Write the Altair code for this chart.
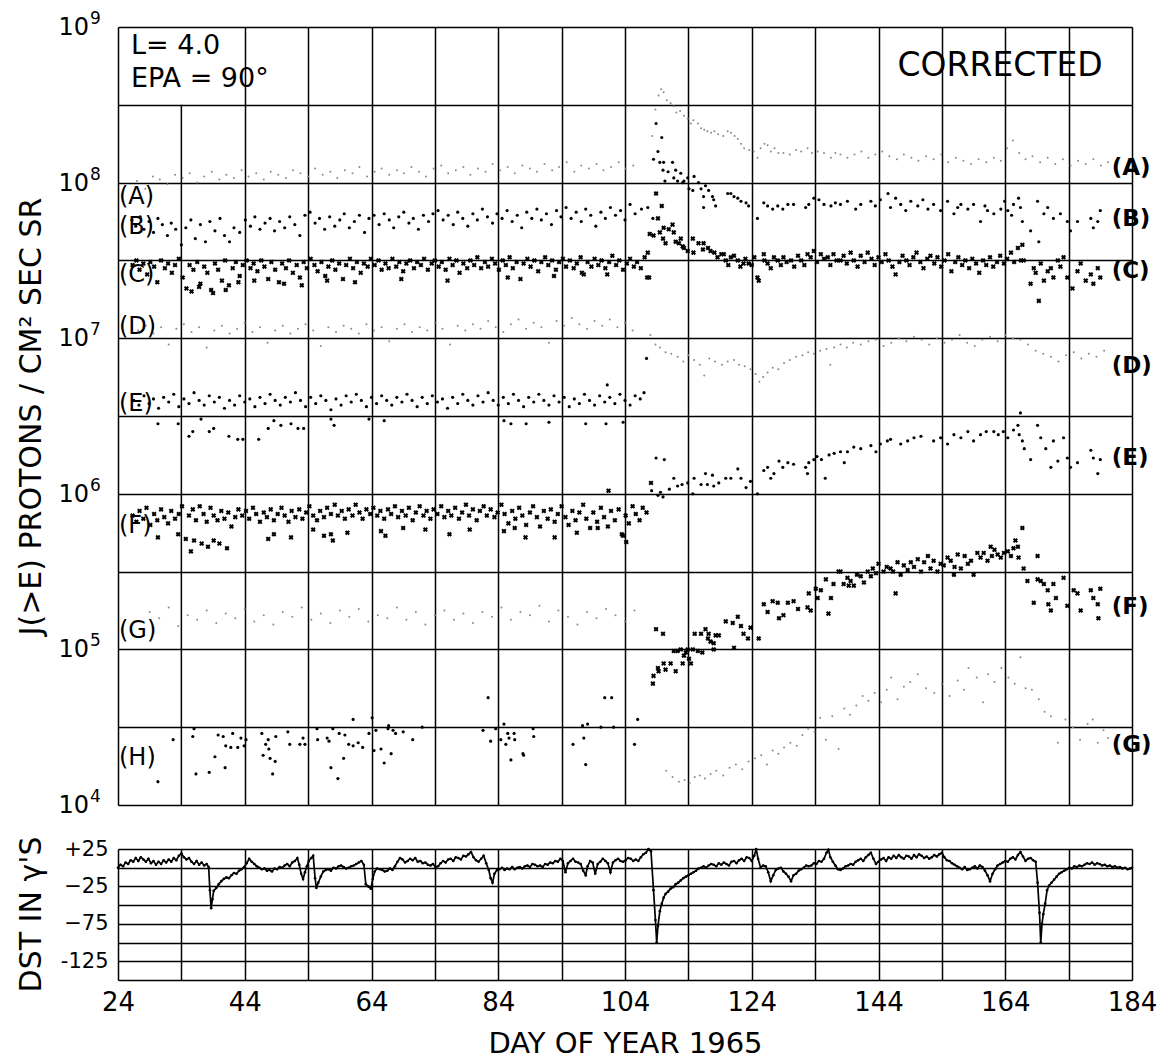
import altair as alt
import pandas as pd

# ------------------------------------------------------------------
# Values: (day of year 1965, log10 J(>E))
# ------------------------------------------------------------------
A_PTS = [
    (27.0,8.01),(28.3,7.96),(29.5,8.04),(30.6,8.02),(31.8,7.99),(33.0,8.05),(34.2,8.03),(35.3,8.06),(36.5,8.00),(37.6,8.04),
    (38.8,8.07),(40.0,8.02),(41.1,8.05),(42.3,8.03),(43.5,8.08),(44.6,8.04),(45.8,8.06),(47.0,8.02),(48.1,8.07),(49.3,8.05),
    (50.5,8.03),(51.6,8.08),(52.8,8.06),(54.0,8.04),(55.1,8.09),(56.3,8.05),(57.5,8.07),(58.6,8.03),(59.8,8.08),(61.0,8.06),
    (62.1,8.10),(63.3,8.04),(64.5,8.07),(65.6,8.09),(66.8,8.05),(68.0,8.08),(69.1,8.06),(70.3,8.10),(71.5,8.07),(72.6,8.04),
    (73.8,8.09),(75.0,8.11),(76.1,8.06),(77.3,8.08),(78.5,8.10),(79.6,8.05),(80.8,8.09),(82.0,8.07),(83.1,8.12),(84.3,8.08),
    (85.5,8.10),(86.6,8.06),(87.8,8.11),(89.0,8.09),(90.1,8.07),(91.3,8.12),(92.5,8.08),(93.6,8.10),(94.8,8.13),(96.0,8.07),
    (97.1,8.11),(98.3,8.09),(99.5,8.12),(100.6,8.08),(101.8,8.10),(103.0,8.13),(104.1,8.09),(105.3,8.11),
    (108.3,8.30),(108.8,8.47),(109.3,8.56),(109.7,8.60),(110.1,8.58),(110.6,8.53),(111.2,8.51),(111.7,8.49),(112.1,8.45),
    (112.7,8.46),(113.3,8.43),(113.9,8.41),(114.4,8.38),(114.8,8.40),(115.5,8.38),(116.0,8.35),(116.5,8.34),(117.0,8.33),
    (117.6,8.32),(118.1,8.33),(118.7,8.31),(119.5,8.30),(120.2,8.33),(120.7,8.32),(121.3,8.30),(121.8,8.28),(122.3,8.25),
    (122.8,8.22),(123.6,8.21),(124.3,8.20),(124.9,8.16),(125.4,8.22),(126.0,8.25),(126.5,8.24),(127.0,8.20),(127.6,8.22),
    (128.2,8.19),(129.0,8.19),(130.0,8.18),(131.0,8.21),(131.8,8.20),(132.8,8.22),(133.5,8.19),(134.4,8.20),(135.4,8.19),
    (136.5,8.16),(137.2,8.19),(138.0,8.18),(139.1,8.16),(140.2,8.18),(141.3,8.20),(142.4,8.16),(143.5,8.18),(144.6,8.20),
    (145.7,8.17),(146.9,8.15),(148.0,8.18),(149.2,8.16),(150.3,8.14),(151.5,8.17),(152.7,8.15),(153.9,8.18),(155.0,8.13),
    (156.2,8.16),(157.4,8.14),(158.6,8.12),(159.8,8.15),(161.0,8.13),(162.2,8.16),(163.3,8.14),(164.3,8.22),(165.2,8.27),
    (166.2,8.19),(167.2,8.15),(168.3,8.17),(169.5,8.13),(170.7,8.16),(171.9,8.12),(173.1,8.15),(174.3,8.11),(175.5,8.14),
    (176.7,8.12),(177.9,8.15),(179.1,8.11),(180.2,8.13),
]

B_PTS = [
    (26.2,7.76),(26.8,7.72),(27.5,7.78),(28.1,7.70),(28.9,7.75),(29.6,7.68),(30.3,7.77),(31.0,7.73),(31.8,7.66),(32.4,7.74),(33.1,7.70),
    (34.0,7.60),(34.7,7.71),(35.5,7.76),(36.2,7.64),(37.0,7.73),(37.8,7.62),(38.5,7.75),(39.3,7.69),(40.1,7.77),(40.8,7.66),(41.6,7.62),
    (42.3,7.71),(43.2,7.68),(44.1,7.76),(44.9,7.72),(45.6,7.78),(46.4,7.70),(47.2,7.74),(48.0,7.77),(48.7,7.69),(49.5,7.75),(50.3,7.71),
    (51.1,7.78),(51.9,7.73),(52.7,7.66),(53.5,7.79),(54.3,7.81),(55.1,7.74),(55.8,7.77),(56.6,7.70),(57.4,7.78),(58.2,7.72),(59.0,7.76),
    (59.7,7.80),(60.5,7.71),(61.3,7.75),(62.1,7.79),(62.9,7.68),(63.6,7.77),(64.4,7.79),(65.2,7.73),(66.0,7.80),(66.8,7.76),(67.5,7.71),
    (68.3,7.78),(69.1,7.81),(69.9,7.74),(70.6,7.77),(71.4,7.70),(72.2,7.79),(73.0,7.75),(73.7,7.80),(74.5,7.82),(75.3,7.76),(76.1,7.79),
    (76.9,7.73),(77.6,7.81),(78.4,7.77),(79.2,7.72),(80.0,7.80),(80.7,7.76),(81.5,7.83),(82.3,7.78),(83.1,7.74),(83.8,7.80),(84.6,7.77),
    (85.4,7.82),(86.2,7.75),(87.0,7.79),(87.7,7.71),(88.5,7.81),(89.3,7.77),(90.1,7.83),(90.8,7.76),(91.6,7.80),(92.4,7.73),(93.2,7.82),
    (93.9,7.78),(94.7,7.84),(95.5,7.77),(96.3,7.81),(97.1,7.75),(97.8,7.83),(98.6,7.79),(99.4,7.72),(100.2,7.81),(100.9,7.77),(101.7,7.84),
    (102.5,7.79),(103.3,7.82),(104.0,7.76),(104.8,7.86),(105.6,7.80),(106.6,7.83),(107.6,7.84),(108.4,7.77),
    (108.9,8.38),(109.8,8.29),(109.2,8.20),(108.5,8.15),(109.5,8.13),(110.1,8.13),(111.5,8.13),(110.0,8.08),(110.8,8.07),(112.0,8.08),
    (110.3,8.01),(111.7,8.03),(112.3,8.01),(112.8,8.06),(113.1,8.00),(113.3,8.01),(113.9,8.03),(114.9,8.04),(114.1,7.96),(114.7,7.95),
    (115.6,8.00),(116.0,7.96),(116.7,7.98),(116.4,7.91),(116.4,7.84),(117.2,7.95),(117.8,7.91),(118.3,7.85),(118.0,7.89),(120.2,7.93),
    (120.7,7.93),(121.2,7.91),(121.8,7.90),(122.3,7.88),(123.1,7.87),(123.5,7.85),(124.9,7.77),(125.9,7.87),(126.5,7.85),(127.3,7.83),
    (128.1,7.85),(128.9,7.83),(129.7,7.86),(130.6,7.86),(132.5,7.84),(133.0,7.86),(133.8,7.90),(134.6,7.89),(135.4,7.86),(136.5,7.85),
    (137.2,7.87),(138.0,7.86),(139.1,7.88),(140.4,7.83),(141.2,7.86),(142.8,7.88),(143.5,7.85),(144.3,7.89),(145.5,7.93),(145.9,7.84),
    (146.7,7.90),(147.5,7.86),(148.3,7.82),(149.1,7.88),(150.2,7.85),(151.0,7.89),(151.8,7.83),(152.7,7.86),(153.8,7.82),(154.9,7.88),
    (155.9,7.80),(156.5,7.84),(157.0,7.86),(158.1,7.83),(159.0,7.86),(160.1,7.75),(160.8,7.85),(161.2,7.82),(162.2,7.80),(163.3,7.83),
    (163.9,7.88),(164.4,7.82),(165.0,7.79),(165.3,7.86),(166.1,7.90),(166.4,7.84),(166.7,7.75),(168.0,7.69),(169.1,7.88),(169.3,7.62),
    (170.1,7.80),(170.7,7.84),(171.6,7.77),(172.7,7.80),(173.8,7.75),(174.3,7.69),(175.4,7.75),(177.5,7.77),(177.9,7.71),(178.6,7.75),
    (179.0,7.82),
]

C_PTS = [
    (26.3,7.47),(26.9,7.50),(27.4,7.44),(28.0,7.48),(28.6,7.41),(29.1,7.49),(29.7,7.46),(30.2,7.36),(30.8,7.50),(31.4,7.45),(31.9,7.48),
    (32.5,7.42),(33.0,7.47),(33.6,7.51),(34.2,7.39),(34.8,7.32),(35.3,7.47),(35.9,7.44),(36.5,7.49),(37.0,7.35),(37.6,7.46),(38.1,7.42),
    (38.7,7.31),(39.3,7.48),(39.8,7.44),(40.4,7.37),(40.9,7.50),(41.5,7.34),(42.1,7.45),(42.6,7.49),(43.2,7.40),(43.7,7.47),(44.3,7.50),
    (44.9,7.45),(45.4,7.48),(46.0,7.43),(46.6,7.50),(47.1,7.46),(47.7,7.38),(48.2,7.49),(48.8,7.44),(49.4,7.36),(49.9,7.48),(50.5,7.45),
    (51.0,7.50),(51.6,7.42),(52.2,7.47),(52.7,7.39),(53.3,7.49),(53.8,7.45),(54.4,7.51),(55.0,7.47),(55.5,7.43),(56.1,7.49),(56.7,7.40),
    (57.2,7.46),(57.8,7.50),(58.3,7.44),(58.9,7.48),(59.5,7.38),(60.0,7.47),(60.6,7.51),(61.1,7.45),(61.7,7.49),(62.3,7.42),(62.8,7.48),
    (63.4,7.46),(63.9,7.51),(64.5,7.47),(65.1,7.50),(65.6,7.44),(66.2,7.48),(66.7,7.45),(67.3,7.51),(67.9,7.46),(68.4,7.49),(69.0,7.43),
    (69.5,7.48),(70.1,7.50),(70.7,7.45),(71.2,7.49),(71.8,7.47),(72.3,7.51),(72.9,7.44),(73.5,7.48),(74.0,7.50),(74.6,7.46),(75.1,7.49),
    (75.7,7.44),(76.3,7.51),(76.8,7.47),(77.4,7.50),(77.9,7.42),(78.5,7.48),(79.1,7.45),(79.6,7.50),(80.2,7.47),(80.7,7.52),(81.3,7.45),
    (81.9,7.49),(82.4,7.46),(83.0,7.51),(83.5,7.48),(84.1,7.44),(84.7,7.50),(85.2,7.47),(85.8,7.52),(86.3,7.45),(86.9,7.49),(87.5,7.38),
    (88.0,7.48),(88.6,7.51),(89.1,7.46),(89.7,7.50),(90.3,7.43),(90.8,7.49),(91.4,7.52),(91.9,7.47),(92.5,7.50),(93.1,7.44),(93.6,7.49),
    (94.2,7.51),(94.7,7.46),(95.3,7.50),(95.9,7.45),(96.4,7.48),(97.0,7.52),(97.5,7.41),(98.1,7.49),(98.7,7.46),(99.2,7.51),(99.8,7.47),
    (100.3,7.50),(100.9,7.45),(101.5,7.49),(102.0,7.53),(102.6,7.47),(103.1,7.50),(103.7,7.44),(104.3,7.48),(104.8,7.51),(105.4,7.46),
    (105.9,7.49),(106.5,7.45),(107.1,7.52),(107.5,7.39),
    (35.6,7.30),(36.8,7.33),(39.0,7.29),(41.0,7.31),(43.0,7.36),(45.5,7.37),(50.2,7.35),(53.0,7.34),(57.0,7.37),(61.4,7.36),
    (68.7,7.38),(76.0,7.37),(85.5,7.39),(92.8,7.40),(97.2,7.42),(101.2,7.41),
    (107.6,7.55),(107.8,7.39),(108.9,7.93),(109.8,7.85),(109.2,7.77),(107.9,7.67),(108.5,7.66),(109.5,7.68),(110.1,7.71),(110.9,7.70),
    (111.5,7.73),(110.0,7.64),(110.4,7.61),(111.7,7.68),(112.0,7.62),(112.8,7.64),(112.5,7.61),(113.1,7.59),(113.3,7.58),(113.9,7.56),
    (114.7,7.64),(114.8,7.55),(115.6,7.61),(116.3,7.57),(116.4,7.61),(117.1,7.58),(117.5,7.56),(118.1,7.55),(118.6,7.52),(119.2,7.54),
    (119.6,7.54),(119.9,7.50),(120.3,7.47),(120.7,7.52),(121.2,7.53),(121.8,7.50),(122.2,7.46),(122.7,7.48),(123.0,7.51),(123.5,7.48),
    (124.0,7.47),(124.4,7.52),(124.9,7.39),(125.1,7.37),(125.9,7.54),(126.0,7.50),(126.5,7.48),(127.0,7.45),(127.5,7.52),(128.1,7.50),
    (128.6,7.47),(129.0,7.52),(129.5,7.49),(130.2,7.50),(130.7,7.46),(131.3,7.53),(131.8,7.50),(132.3,7.47),(132.8,7.54),(133.3,7.52),
    (133.8,7.56),(134.3,7.49),(134.9,7.54),(135.4,7.51),(136.0,7.52),(136.4,7.47),(136.9,7.54),(137.4,7.50),(138.0,7.50),(138.5,7.53),
    (139.0,7.48),(139.6,7.55),(140.1,7.50),(140.7,7.46),(141.2,7.53),(141.8,7.49),(142.3,7.55),(142.9,7.51),(143.4,7.47),(144.0,7.52),
    (144.5,7.49),(145.1,7.54),(145.6,7.50),(146.2,7.46),(146.7,7.41),(147.3,7.49),(147.8,7.53),(148.4,7.50),(148.9,7.47),(149.5,7.52),
    (150.0,7.55),(150.6,7.49),(151.1,7.45),(151.7,7.51),(152.2,7.53),(152.8,7.48),(153.3,7.52),(153.9,7.46),(154.4,7.50),(155.0,7.54),
    (155.5,7.43),(156.1,7.49),(156.6,7.52),(157.2,7.47),(157.7,7.50),(158.3,7.45),(158.8,7.51),(159.4,7.48),(159.9,7.42),(160.5,7.50),
    (161.0,7.47),(161.6,7.52),(162.1,7.46),(162.7,7.49),(163.2,7.53),(163.8,7.48),(164.3,7.51),(164.9,7.55),(165.4,7.49),(166.0,7.58),
    (166.5,7.50),(166.7,7.60),(166.9,7.50),(168.0,7.35),(168.5,7.45),(168.8,7.42),(169.3,7.24),(169.6,7.48),(170.1,7.37),(170.7,7.43),
    (171.2,7.45),(171.6,7.39),(172.3,7.50),(172.7,7.46),(173.2,7.52),(173.8,7.39),(174.6,7.32),(175.4,7.43),(175.9,7.48),(176.7,7.37),
    (177.5,7.41),(177.9,7.35),(178.6,7.45),(179.0,7.39),
]

D_PTS = [
    (27.2,7.05),(28.4,7.08),(29.6,7.03),(30.8,7.07),(32.0,6.96),(33.2,7.06),(34.4,7.09),(35.6,7.04),(36.8,7.07),(38.0,6.94),(39.2,7.05),
    (40.4,7.08),(41.6,7.03),(42.8,7.06),(44.0,7.10),(45.2,7.04),(46.4,7.07),(47.6,6.97),(48.8,7.05),(50.0,7.08),(51.2,7.03),(52.4,7.06),
    (53.6,7.09),(54.8,7.05),(56.0,6.95),(57.2,7.07),(58.4,7.04),(59.6,7.08),(60.8,7.06),(62.0,7.03),(63.2,7.09),(64.4,7.05),(65.6,7.07),
    (66.8,6.98),(68.0,7.06),(69.2,7.09),(70.4,7.04),(71.6,7.07),(72.8,7.05),(74.0,7.10),(75.2,7.06),(76.4,6.96),(77.6,7.08),(78.8,7.05),
    (80.0,7.09),(81.2,7.06),(82.4,7.11),(83.6,7.07),(84.8,7.04),(86.0,7.09),(87.2,7.12),(88.4,7.06),(89.6,7.10),(90.8,7.07),(92.0,6.97),
    (93.2,7.11),(94.4,7.08),(95.6,7.13),(96.8,7.09),(98.0,7.06),(99.2,7.11),(100.4,7.08),(101.6,7.12),(102.8,7.07),(104.0,7.10),(105.2,7.05),
    (108.0,7.02),(108.8,6.96),(109.5,6.94),(110.4,6.91),(111.3,6.90),(112.3,6.88),(113.2,6.85),(114.0,6.89),(114.9,6.86),(115.8,6.83),
    (116.5,6.76),(117.3,6.87),(118.2,6.85),(119.3,6.83),(120.2,6.85),(121.2,6.86),(122.0,6.83),(122.9,6.82),(123.8,6.80),(124.6,6.77),
    (125.2,6.72),(125.8,6.75),(126.5,6.78),(127.3,6.81),(128.2,6.80),(129.1,6.84),(130.0,6.86),(131.0,6.88),(132.0,6.89),(132.9,6.91),
    (133.8,6.90),(134.8,6.92),(135.8,6.93),(136.4,6.83),(137.0,6.94),(138.0,6.96),(139.0,6.94),(140.0,6.97),(141.2,6.96),(142.4,6.98),
    (143.6,6.99),(144.8,6.95),(146.0,6.97),(147.2,7.00),(148.4,6.98),(149.6,7.01),(150.8,6.99),(152.0,6.96),(153.2,7.00),(154.4,6.97),
    (155.6,6.99),(156.8,7.02),(158.0,6.97),(159.2,6.95),(160.4,6.99),(161.6,7.01),(162.8,6.98),(164.0,7.02),(165.2,7.00),(166.4,6.99),
    (167.6,6.96),(168.8,6.92),(170.0,6.90),(171.2,6.88),(172.4,6.85),(173.6,6.89),(174.8,6.91),(176.0,6.87),(177.2,6.90),(178.4,6.88),
    (179.6,6.92),
]

E_PTS = [
    (26.5,6.60),(27.3,6.57),(28.1,6.63),(28.9,6.58),(29.6,6.61),(30.4,6.55),(31.2,6.62),(32.0,6.59),(32.8,6.64),(33.6,6.56),(34.4,6.61),
    (35.2,6.58),(36.0,6.65),(36.8,6.60),(37.6,6.57),(38.4,6.63),(39.2,6.59),(40.0,6.62),(40.8,6.55),(41.6,6.60),(42.4,6.57),(43.2,6.63),
    (44.0,6.59),(44.8,6.61),(45.6,6.56),(46.4,6.62),(47.2,6.58),(48.0,6.64),(48.8,6.60),(49.6,6.57),(50.4,6.62),(51.2,6.59),(52.0,6.65),
    (52.8,6.60),(53.6,6.56),(54.4,6.62),(55.2,6.58),(56.0,6.63),(56.8,6.60),(57.6,6.54),(58.4,6.61),(59.2,6.57),(60.0,6.63),(60.8,6.59),
    (61.6,6.64),(62.4,6.60),(63.2,6.56),(64.0,6.62),(64.8,6.58),(65.6,6.63),(66.4,6.60),(67.2,6.57),(68.0,6.62),(68.8,6.59),(69.6,6.64),
    (70.4,6.60),(71.2,6.56),(72.0,6.62),(72.8,6.58),(73.6,6.63),(74.4,6.59),(75.2,6.61),(76.0,6.55),(76.8,6.62),(77.6,6.58),(78.4,6.64),
    (79.2,6.60),(80.0,6.57),(80.8,6.63),(81.6,6.59),(82.4,6.65),(83.2,6.60),(84.0,6.57),(84.8,6.62),(85.6,6.58),(86.4,6.64),(87.2,6.60),
    (88.0,6.56),(88.8,6.62),(89.6,6.59),(90.4,6.64),(91.2,6.60),(92.0,6.57),(92.8,6.63),(93.6,6.59),(94.4,6.62),(95.2,6.56),(96.0,6.61),
    (96.8,6.58),(97.6,6.64),(98.4,6.60),(99.2,6.57),(100.0,6.63),(100.8,6.59),(101.2,6.70),(101.6,6.62),(102.4,6.58),(103.2,6.64),
    (104.0,6.60),(104.8,6.57),(105.6,6.63),(106.4,6.61),(107.0,6.65),(107.4,6.87),
    (30.3,6.45),(33.5,6.45),(35.2,6.37),(35.8,6.40),(37.1,6.48),(38.4,6.40),(39.1,6.42),(41.5,6.37),(42.9,6.35),(43.7,6.35),(46.2,6.35),
    (47.7,6.42),(48.6,6.47),(49.7,6.44),(51.3,6.45),(52.4,6.42),(53.3,6.42),(57.6,6.48),(58.1,6.44),(63.6,6.48),(66.0,6.47),(84.9,6.47),
    (86.0,6.45),(88.4,6.45),(92.0,6.46),(97.8,6.45),(101.0,6.45),(103.7,6.46),
    (108.2,6.02),(108.9,6.23),(109.2,5.99),(109.6,6.01),(110.0,5.98),(110.2,6.22),(111.0,6.03),(111.7,6.10),(112.3,6.05),(113.0,6.06),
    (113.9,6.07),(114.7,6.00),(114.9,6.10),(116.0,6.06),(116.7,6.13),(117.0,6.06),(117.8,6.12),(118.0,6.05),(118.8,6.07),(119.9,6.10),
    (120.7,6.10),(121.8,6.16),(122.3,6.10),(123.1,6.04),(123.8,6.08),(124.9,6.00),(125.9,6.15),(126.5,6.17),(127.0,6.10),(127.5,6.13),
    (128.3,6.21),(128.9,6.17),(129.7,6.20),(130.6,6.19),(132.5,6.17),(132.8,6.13),(133.0,6.20),(133.8,6.22),(134.3,6.24),(135.0,6.22),
    (135.6,6.10),(136.2,6.25),(137.0,6.26),(138.0,6.27),(138.6,6.20),(139.1,6.27),(140.1,6.30),(141.2,6.29),(142.8,6.31),(143.6,6.27),
    (144.3,6.32),(145.4,6.34),(145.9,6.35),(147.5,6.32),(148.6,6.34),(149.6,6.36),(150.7,6.37),(152.7,6.34),(153.8,6.36),(154.9,6.32),
    (155.9,6.38),(157.0,6.36),(158.1,6.40),(159.0,6.34),(160.1,6.38),(161.0,6.40),(162.2,6.40),(162.9,6.38),(163.7,6.40),(164.4,6.36),
    (165.3,6.41),(166.0,6.44),(166.2,6.38),(166.4,6.52),(166.7,6.34),(167.0,6.29),(168.0,6.22),(169.1,6.44),(169.6,6.36),(170.4,6.29),
    (171.2,6.17),(171.6,6.34),(172.3,6.21),(173.2,6.36),(173.8,6.23),(174.3,6.17),(175.4,6.20),(177.5,6.28),(177.9,6.23),(178.6,6.13),
    (179.0,6.22),
]

F_PTS = [
    (26.3,5.86),(26.9,5.82),(27.4,5.89),(28.0,5.84),(28.5,5.91),(29.1,5.80),(29.7,5.87),(30.2,5.83),(30.8,5.90),(31.3,5.85),(31.9,5.81),
    (32.4,5.89),(33.0,5.84),(33.6,5.87),(34.1,5.92),(34.7,5.71),(35.2,5.86),(35.8,5.90),(36.3,5.83),(36.9,5.92),(37.5,5.87),(38.0,5.82),
    (38.6,5.91),(39.1,5.86),(39.7,5.83),(40.3,5.89),(40.8,5.84),(41.4,5.88),(41.9,5.79),(42.5,5.85),(43.0,5.90),(43.6,5.86),(44.2,5.89),
    (44.7,5.84),(45.3,5.91),(45.8,5.87),(46.4,5.82),(47.0,5.88),(47.5,5.85),(48.1,5.90),(48.6,5.83),(49.2,5.87),(49.8,5.91),(50.3,5.86),
    (50.9,5.82),(51.4,5.89),(52.0,5.85),(52.6,5.90),(53.1,5.84),(53.7,5.88),(54.2,5.92),(54.8,5.86),(55.4,5.83),(55.9,5.89),(56.5,5.85),
    (57.0,5.91),(57.6,5.87),(58.2,5.93),(58.7,5.86),(59.3,5.89),(59.8,5.84),(60.4,5.90),(61.0,5.86),(61.5,5.93),(62.1,5.88),(62.6,5.84),
    (63.2,5.90),(63.8,5.87),(64.3,5.91),(64.9,5.86),(65.4,5.89),(66.0,5.84),(66.6,5.90),(67.1,5.87),(67.7,5.92),(68.2,5.85),(68.8,5.89),
    (69.4,5.86),(69.9,5.91),(70.5,5.83),(71.0,5.88),(71.6,5.92),(72.2,5.86),(72.7,5.89),(73.3,5.84),(73.8,5.90),(74.4,5.87),(75.0,5.92),
    (75.5,5.85),(76.1,5.89),(76.6,5.86),(77.2,5.91),(77.8,5.84),(78.3,5.88),(78.9,5.93),(79.4,5.86),(80.0,5.90),(80.6,5.83),(81.1,5.89),
    (81.7,5.92),(82.2,5.86),(82.8,5.90),(83.4,5.85),(83.9,5.88),(84.5,5.93),(85.0,5.87),(85.6,5.81),(86.2,5.89),(86.7,5.84),(87.3,5.91),
    (87.8,5.86),(88.4,5.80),(89.0,5.88),(89.5,5.92),(90.1,5.85),(90.6,5.79),(91.2,5.89),(91.8,5.84),(92.3,5.90),(92.9,5.82),(93.4,5.87),
    (94.0,5.92),(94.6,5.85),(95.1,5.80),(95.7,5.89),(96.2,5.83),(96.8,5.88),(97.4,5.93),(97.9,5.84),(98.5,5.78),(99.0,5.88),(99.6,5.82),
    (100.2,5.91),(100.7,5.85),(101.3,5.79),(101.4,6.02),(101.8,5.89),(102.4,5.83),(103.0,5.90),(103.5,5.74),(104.1,5.86),(104.6,5.81),
    (105.2,5.92),(105.7,5.87),(106.3,5.83),(106.8,5.91),(107.4,5.88),(108.1,6.07),
    (30.3,5.72),(33.5,5.74),(35.5,5.63),(36.0,5.70),(37.2,5.68),(38.2,5.66),(39.1,5.70),(40.0,5.68),(41.2,5.65),(47.7,5.71),(48.6,5.74),
    (51.3,5.72),(54.8,5.77),(56.5,5.73),(57.6,5.74),(57.9,5.70),(60.2,5.75),(65.5,5.76),(66.2,5.73),(69.0,5.78),(72.5,5.77),(76.3,5.74),
    (79.5,5.77),(84.9,5.76),(86.6,5.78),(88.3,5.72),(92.9,5.72),(96.4,5.75),(99.7,5.78),(103.7,5.73),(104.2,5.69),
    (108.4,4.78),(108.5,4.83),(108.9,5.13),(109.2,4.88),(109.3,4.86),(110.0,5.10),(110.1,4.91),(110.4,4.87),(111.2,4.91),(111.7,4.99),
    (112.0,4.86),(112.3,4.99),(112.8,5.00),(113.1,4.91),(113.3,4.96),(113.6,4.98),(113.9,5.00),(114.1,4.94),(114.4,4.91),(114.7,5.00),
    (115.0,5.10),(115.5,4.99),(116.0,5.10),(116.2,4.98),(116.7,5.13),(117.1,5.07),(117.2,5.10),(117.5,5.05),(118.0,5.04),(118.0,5.00),
    (118.3,5.09),(118.8,5.09),(119.9,5.18),(121.0,5.17),(121.2,5.01),(121.8,5.21),(122.3,5.15),(122.7,5.10),(123.4,5.07),(123.8,5.14),
    (125.1,5.07),(125.9,5.29),(126.5,5.24),(127.3,5.31),(128.1,5.30),(128.3,5.20),(129.0,5.22),(129.7,5.30),(130.6,5.31),(131.3,5.26),
    (132.8,5.27),(133.0,5.36),(133.3,5.25),(134.1,5.39),(134.4,5.33),(134.9,5.38),(135.7,5.45),(136.1,5.23),(136.5,5.33),(136.9,5.42),
    (137.7,5.50),(138.0,5.50),(138.5,5.42),(139.1,5.46),(139.3,5.41),(139.6,5.44),(140.1,5.41),(140.6,5.48),(141.2,5.47),(141.7,5.43),
    (142.3,5.50),(142.8,5.47),(143.1,5.52),(143.6,5.49),(144.0,5.55),(144.8,5.50),(145.3,5.53),(145.9,5.52),(146.3,5.50),(146.7,5.36),
    (147.0,5.56),(147.5,5.48),(148.0,5.54),(148.6,5.51),(149.1,5.56),(149.6,5.53),(150.2,5.58),(150.7,5.50),(151.2,5.56),(151.8,5.60),
    (152.2,5.52),(152.7,5.57),(153.3,5.50),(153.8,5.55),(154.3,5.54),(154.9,5.59),(155.4,5.57),(155.9,5.48),(156.0,5.53),(156.5,5.61),
    (157.0,5.52),(157.6,5.60),(158.1,5.55),(158.6,5.57),(159.0,5.48),(159.6,5.62),(160.1,5.59),(160.6,5.62),(161.2,5.57),(161.7,5.66),
    (161.9,5.60),(162.3,5.64),(162.8,5.61),(163.3,5.59),(163.8,5.62),(164.4,5.63),(164.9,5.60),(165.3,5.65),(165.6,5.70),(166.0,5.66),
    (166.1,5.59),(166.7,5.78),(166.9,5.52),(167.5,5.44),(168.5,5.30),(169.1,5.60),(169.1,5.45),(169.6,5.44),(170.1,5.42),(170.7,5.38),
    (170.8,5.29),(171.2,5.25),(171.6,5.42),(172.0,5.33),(173.2,5.46),(173.8,5.28),(174.8,5.38),(175.4,5.36),(175.9,5.25),(177.5,5.38),
    (177.9,5.33),(178.6,5.29),(178.7,5.20),(179.0,5.39),
]

G_PTS = [
    (27.5,5.18),(29.0,5.24),(30.5,5.20),(32.0,5.27),(33.5,5.15),(35.0,5.22),(36.5,5.19),(38.0,5.25),(39.5,5.17),(41.0,5.23),(42.5,5.20),
    (44.0,5.26),(45.5,5.18),(47.0,5.22),(48.5,5.16),(50.0,5.24),(51.5,5.21),(53.0,5.27),(54.5,5.19),(56.0,5.23),(57.5,5.17),(59.0,5.25),
    (60.5,5.21),(62.0,5.26),(63.5,5.18),(65.0,5.22),(66.5,5.20),(68.0,5.27),(69.5,5.19),(71.0,5.24),(72.5,5.16),(74.0,5.22),(75.5,5.25),
    (77.0,5.19),(78.5,5.23),(80.0,5.17),(81.5,5.24),(83.0,5.21),(84.5,5.27),(86.0,5.19),(87.5,5.24),(89.0,5.22),(90.5,5.28),(92.0,5.18),
    (93.5,5.25),(95.0,5.21),(96.5,5.16),(98.0,5.24),(99.5,5.20),(101.0,5.26),(102.5,5.22),(104.0,5.18),(105.5,5.25),
    (110.5,4.22),(111.5,4.18),(112.5,4.15),(113.4,4.16),(114.2,4.14),(115.0,4.18),(115.8,4.19),(116.6,4.17),(117.5,4.20),(118.4,4.22),
    (119.5,4.19),(120.5,4.24),(121.5,4.26),(122.5,4.23),(123.5,4.28),(124.5,4.30),(125.5,4.32),(126.4,4.26),(127.3,4.35),(128.2,4.33),
    (129.1,4.37),(130.1,4.40),(131.1,4.38),(132.0,4.45),(132.9,4.49),(133.9,4.47),(134.8,4.56),(135.7,4.42),(136.7,4.57),(137.7,4.36),
    (138.6,4.62),(139.5,4.58),(140.5,4.64),(141.5,4.70),(142.4,4.67),(143.4,4.72),(144.4,4.66),(145.3,4.74),(146.0,4.82),(147.0,4.68),
    (148.0,4.76),(149.0,4.79),(150.2,4.84),(151.5,4.75),(152.8,4.72),(154.0,4.78),(155.2,4.70),(156.5,4.80),(157.5,4.74),(158.2,4.88),
    (159.5,4.82),(160.5,4.66),(161.3,4.84),(162.3,4.79),(163.4,4.88),(164.5,4.82),(165.5,4.78),(166.4,4.95),(167.2,4.75),(168.2,4.74),
    (169.3,4.68),(170.2,4.60),(171.2,4.57),(172.3,4.40),(173.5,4.55),(174.7,4.50),(175.8,4.42),(177.0,4.52),(177.8,4.55),(178.6,4.40),
    (179.5,4.48),(180.2,4.43),
]

H_PTS = [
    (30.3,4.15),(32.7,4.42),(36.0,4.49),(35.8,4.44),(36.3,4.20),(38.4,4.21),(39.3,4.31),(39.8,4.45),(40.6,4.44),(40.9,4.24),(41.0,4.38),
    (41.8,4.37),(42.1,4.46),(42.9,4.37),(43.4,4.43),(43.9,4.38),(44.2,4.42),(46.7,4.46),(46.9,4.32),(47.3,4.39),(47.7,4.42),(47.8,4.36),
    (48.0,4.30),(48.4,4.20),(48.8,4.28),(48.9,4.44),(50.8,4.47),(51.1,4.39),(52.7,4.39),(53.2,4.43),(53.5,4.39),(55.4,4.49),(55.5,4.42),
    (57.0,4.43),(57.3,4.41),(57.6,4.24),(57.9,4.49),(58.7,4.17),(58.9,4.46),(59.6,4.30),(59.8,4.45),(60.4,4.39),(61.1,4.38),(61.1,4.55),
    (61.9,4.40),(62.6,4.37),(63.6,4.46),(64.1,4.56),(64.4,4.35),(64.7,4.48),(65.5,4.36),(66.0,4.27),(66.6,4.49),(66.7,4.51),(67.1,4.33),
    (67.4,4.48),(67.8,4.46),(69.0,4.47),(70.5,4.42),(72.0,4.50),(81.6,4.48),(82.4,4.69),(82.8,4.41),(83.6,4.49),(84.4,4.42),(84.9,4.52),
    (85.2,4.39),(85.5,4.46),(85.7,4.43),(86.0,4.29),(86.5,4.46),(86.6,4.42),(87.9,4.33),(88.0,4.32),(89.5,4.49),(89.6,4.44),(95.8,4.39),
    (97.3,4.51),(97.5,4.43),(97.8,4.26),(98.1,4.52),(100.2,4.50),(100.8,4.69),(101.9,4.69),(102.2,4.50),(105.5,4.39),(106.0,4.55),
]

# Dst index in gammas: (day of year, Dst)
DST_PTS = [
    (24.0,0),(24.4,4),(24.8,2),(25.2,7),(25.6,5),(26.0,10),(26.4,8),(26.8,13),(27.2,9),(27.6,14),(28.0,11),(28.4,8),(28.8,12),
    (29.2,6),(29.6,9),(30.0,4),(30.4,8),(30.8,5),(31.2,10),(31.6,7),(32.0,11),(32.4,8),(32.8,13),(33.2,10),(33.6,16),(34.0,19),
    (34.4,14),(34.8,11),(35.2,13),(35.6,8),(36.0,5),(36.4,9),(36.8,4),(37.2,7),(37.6,3),(38.0,5),(38.3,1),(38.5,-30),(38.7,-54),
    (38.9,-42),(39.1,-31),(39.5,-27),(39.9,-22),(40.3,-18),(40.7,-15),(41.1,-13),(41.5,-14),(41.9,-10),(42.3,-7),(42.7,-8),(43.1,-4),
    (43.5,-2),(43.9,1),(44.3,6),(44.7,12),(45.1,8),(45.5,5),(45.9,2),(46.3,0),(46.7,-2),(47.1,-1),(47.5,-4),(47.9,-3),(48.3,-5),
    (48.7,-1),(49.1,-2),(49.5,1),(49.9,0),(50.3,3),(50.7,5),(51.1,2),(51.5,7),(51.9,9),(52.3,13),(52.6,4),(52.9,-8),(53.2,-15),
    (53.5,-6),(53.8,2),(54.1,9),(54.5,13),(54.8,16),(55.1,-14),(55.3,-27),(55.6,-20),(56.0,-12),(56.4,-5),(56.8,-3),(57.2,-2),
    (57.6,-4),(58.0,0),(58.4,-1),(58.8,2),(59.2,3),(59.6,1),(60.0,-1),(60.4,0),(60.8,2),(61.2,3),(61.6,5),(62.0,7),(62.4,9),
    (62.8,4),(63.1,-22),(63.5,-25),(63.9,-28),(64.2,-15),(64.5,-5),(64.9,-1),(65.3,-2),(65.7,-3),(66.1,-5),(66.5,-4),(66.9,-1),
    (67.3,-3),(67.7,2),(68.1,8),(68.5,13),(68.9,11),(69.3,7),(69.7,9),(70.1,12),(70.5,10),(70.9,13),(71.3,8),(71.7,9),(72.1,6),
    (72.5,7),(72.9,4),(73.3,3),(73.7,5),(74.1,1),(74.5,2),(74.9,6),(75.3,9),(75.7,7),(76.1,11),(76.5,12),(76.9,9),(77.3,14),
    (77.7,13),(78.1,11),(78.5,16),(78.9,15),(79.3,18),(79.7,21),(80.1,14),(80.5,10),(80.9,8),(81.3,12),(81.7,16),(82.1,6),
    (82.5,-3),(82.8,-14),(83.1,-20),(83.4,-8),(83.8,-3),(84.2,-2),(84.6,0),(85.0,-3),(85.4,-1),(85.8,-2),(86.2,1),(86.6,-2),
    (87.0,0),(87.4,1),(87.8,-1),(88.2,2),(88.6,3),(89.0,1),(89.4,5),(89.8,4),(90.2,2),(90.6,3),(91.0,1),(91.4,5),(91.8,4),
    (92.2,7),(92.6,6),(93.0,9),(93.4,8),(93.8,12),(94.2,9),(94.6,-6),(95.0,6),(95.4,9),(95.8,12),(96.2,8),(96.6,7),(97.0,5),
    (97.4,-4),(97.8,-10),(98.1,2),(98.5,9),(98.9,7),(99.3,-8),(99.7,5),(100.1,8),(100.5,12),(100.9,9),(101.3,6),(101.7,-6),
    (102.1,7),(102.5,10),(102.9,12),(103.3,9),(103.7,8),(104.1,10),(104.5,13),(104.9,12),(105.3,9),(105.7,11),(106.1,9),
    (106.5,14),(106.9,18),(107.3,20),(107.7,25),(108.1,22),(108.5,-30),(108.8,-70),(109.0,-100),(109.2,-78),(109.5,-58),
    (109.8,-48),(110.1,-40),(110.4,-35),(110.8,-32),(111.2,-28),(111.6,-26),(112.0,-22),(112.4,-20),(112.8,-17),(113.2,-14),
    (113.6,-12),(114.0,-10),(114.4,-8),(114.8,-6),(115.2,-4),(115.6,-1),(116.0,0),(116.4,2),(116.8,0),(117.2,3),(117.6,5),
    (118.0,4),(118.4,2),(118.8,6),(119.2,4),(119.6,7),(120.0,5),(120.4,3),(120.8,8),(121.2,9),(121.6,6),(122.0,10),(122.4,12),
    (122.8,9),(123.2,14),(123.6,13),(124.0,9),(124.4,16),(124.7,25),(125.0,12),(125.4,0),(125.8,3),(126.2,2),(126.6,-6),
    (127.0,-18),(127.4,-10),(127.8,-3),(128.2,-1),(128.6,0),(129.0,-5),(129.4,-8),(129.8,-12),(130.2,-18),(130.6,-10),(131.0,-8),
    (131.4,-4),(131.8,-2),(132.2,0),(132.6,3),(133.0,2),(133.4,3),(133.8,6),(134.2,5),(134.6,9),(135.0,8),(135.4,12),(135.8,20),
    (136.1,24),(136.4,14),(136.8,8),(137.2,3),(137.6,-2),(138.0,-3),(138.4,-1),(138.8,2),(139.2,3),(139.6,5),(140.0,4),(140.4,8),
    (140.8,10),(141.2,12),(141.6,9),(142.0,14),(142.4,17),(142.8,20),(143.2,12),(143.6,5),(144.0,8),(144.4,11),(144.8,13),
    (145.2,9),(145.6,14),(146.0,12),(146.4,16),(146.8,13),(147.2,17),(147.6,14),(148.0,12),(148.4,16),(148.8,15),(149.2,12),
    (149.6,17),(150.0,14),(150.4,18),(150.8,16),(151.2,13),(151.6,15),(152.0,12),(152.4,14),(152.8,17),(153.2,15),(153.6,18),
    (154.0,20),(154.4,14),(154.8,10),(155.2,9),(155.6,6),(156.0,4),(156.4,2),(156.8,0),(157.2,-2),(157.6,1),(158.0,-3),(158.4,-2),
    (158.8,0),(159.2,2),(159.6,-1),(160.0,3),(160.4,1),(160.8,-4),(161.2,-10),(161.6,-18),(162.0,-8),(162.4,-2),(162.8,3),
    (163.2,5),(163.6,7),(164.0,9),(164.4,8),(164.8,12),(165.2,14),(165.6,11),(166.0,17),(166.4,21),(166.8,15),(167.2,9),(167.6,12),
    (168.0,13),(168.4,10),(168.8,8),(169.1,-20),(169.4,-60),(169.6,-100),(169.8,-75),(170.0,-62),(170.3,-48),(170.6,-30),
    (170.9,-24),(171.3,-20),(171.7,-16),(172.1,-12),(172.5,-8),(172.9,-6),(173.3,-4),(173.7,-2),(174.1,0),(174.5,-1),(174.9,2),
    (175.3,1),(175.7,3),(176.1,2),(176.5,4),(176.9,6),(177.3,5),(177.7,7),(178.1,4),(178.5,6),(178.9,5),(179.3,3),(179.7,4),
    (180.1,2),(180.5,3),(180.9,1),(181.3,2),(181.7,0),(182.1,1),(182.5,-1),(182.9,0),(183.3,-2),(183.7,-1),(184.0,0),
]

# grid / tick values
GRID_DAYS = [24, 34, 44, 54, 64, 74, 84, 94, 104, 114, 124, 134, 144, 154, 164, 174, 184]
HALF_DECADES = [1e4, 3.1623e4, 1e5, 3.1623e5, 1e6, 3.1623e6, 1e7, 3.1623e7, 1e8, 3.1623e8, 1e9]
DECADE_EXPONENTS = [4, 5, 6, 7, 8, 9]
DST_GRID = [-150, -125, -100, -75, -50, -25, 0, 25]

# curve labels (label, log10 J at label centre)
LEFT_LABELS = ["(A)", "(B)", "(C)", "(D)", "(E)", "(F)", "(G)", "(H)"]
LEFT_LOG = [7.905, 7.715, 7.405, 7.072, 6.577, 5.793, 5.118, 4.302]
RIGHT_LABELS = ["(A)", "(B)", "(C)", "(D)", "(E)", "(F)", "(G)"]
RIGHT_LOG = [8.094, 7.766, 7.432, 6.821, 6.230, 5.272, 4.386]

FONT = "DejaVu Sans"


def frame(pairs):
    return pd.DataFrame({"day": [p[0] for p in pairs], "flux": [10 ** p[1] for p in pairs]})


x_scale = alt.Scale(domain=[24, 184], nice=False, zero=False)
y_scale = alt.Scale(type="log", domain=[1e4, 1e9], nice=False)

x_top_axis = alt.Axis(
    values=[d for d in GRID_DAYS if d != 34], grid=True, gridColor="black", gridWidth=1.5,
    gridOpacity=1, labels=False, ticks=False, domain=False, title=None,
)
y_top_axis = alt.Axis(
    values=HALF_DECADES, grid=True, gridColor="black", gridWidth=1.5, gridOpacity=1,
    ticks=False, domain=False, labels=False,
    title="J(>E) PROTONS / CM\u00b2 SEC SR", titleFontSize=30, titleFontWeight="normal",
    titleColor="black", titleFont=FONT, titleX=-87, titleY=389, titleAngle=270,
    titleAlign="center", titleBaseline="middle",
)

X_T = alt.X("day:Q", scale=x_scale, axis=x_top_axis)
Y_T = alt.Y("flux:Q", scale=y_scale, axis=y_top_axis)


def series(pairs, kind):
    base = alt.Chart(frame(pairs))
    if kind == "gray":
        m = base.mark_circle(size=4, color="#8a8a8a", opacity=1)
    elif kind == "dot":
        m = base.mark_circle(size=10, color="black", opacity=1)
    else:
        m = base.mark_point(shape="cross", angle=45, filled=True, size=26, color="black", opacity=1)
    return m.encode(x=X_T, y=Y_T)


partial_rule = alt.Chart(pd.DataFrame({"day": [34], "flux": [1e4], "flux2": [3.1623e8]})).mark_rule(
    color="black", strokeWidth=1.5).encode(x=X_T, y=Y_T, y2="flux2:Q")

# decade tick labels "10" with raised exponent
tick_df = pd.DataFrame({
    "day": [24.0] * len(DECADE_EXPONENTS),
    "flux": [10.0 ** k for k in DECADE_EXPONENTS],
    "base": ["10"] * len(DECADE_EXPONENTS),
    "exp": [str(k) for k in DECADE_EXPONENTS],
})
tick_base = alt.Chart(tick_df).mark_text(align="right", baseline="middle", dx=-29, dy=1, fontSize=24,
                                         font=FONT, color="black").encode(x=X_T, y=Y_T, text="base:N")
tick_exp = alt.Chart(tick_df).mark_text(align="left", baseline="middle", dx=-28, dy=-8, fontSize=17,
                                        font=FONT, color="black").encode(x=X_T, y=Y_T, text="exp:N")

left_df = pd.DataFrame({"day": [24.0] * len(LEFT_LABELS), "flux": [10 ** v for v in LEFT_LOG], "label": LEFT_LABELS})
right_df = pd.DataFrame({"day": [180.8] * len(RIGHT_LABELS), "flux": [10 ** v for v in RIGHT_LOG], "label": RIGHT_LABELS})
note_df = pd.DataFrame({"day": [26.05, 26.05], "flux": [10 ** 8.878, 10 ** 8.666], "label": ["L= 4.0", "EPA = 90\u00b0"]})
corr_df = pd.DataFrame({"day": [147.0], "flux": [10 ** 8.749], "label": ["CORRECTED"]})

left_txt = alt.Chart(left_df).mark_text(align="left", baseline="middle", dx=1, fontSize=24, font=FONT,
                                        color="black").encode(x=X_T, y=Y_T, text="label:N")
right_txt = alt.Chart(right_df).mark_text(align="left", baseline="middle", fontSize=23, font=FONT,
                                          fontWeight="bold", color="black").encode(x=X_T, y=Y_T, text="label:N")
note_txt = alt.Chart(note_df).mark_text(align="left", baseline="middle", fontSize=27, font=FONT,
                                        color="black").encode(x=X_T, y=Y_T, text="label:N")
corr_txt = alt.Chart(corr_df).mark_text(align="left", baseline="middle", fontSize=33, font=FONT,
                                        color="black").encode(x=X_T, y=Y_T, text="label:N")

top = alt.layer(
    partial_rule,
    series(A_PTS, "gray"), series(D_PTS, "gray"), series(G_PTS, "gray"),
    series(B_PTS, "dot"), series(E_PTS, "dot"), series(H_PTS, "dot"),
    series(C_PTS, "x"), series(F_PTS, "x"),
    tick_base, tick_exp,
    left_txt, right_txt, note_txt, corr_txt,
).properties(width=1014, height=778)

# ---------------- Dst panel ----------------
x_bot_axis = alt.Axis(
    values=GRID_DAYS, grid=True, gridColor="black", gridWidth=1.5, gridOpacity=1,
    ticks=False, domain=False, labelFlush=False,
    labelExpr="(datum.value - 24) % 20 == 0 ? '' + datum.value : ''",
    labelFontSize=26, labelPadding=9, labelColor="black", labelFont=FONT,
    title="DAY OF YEAR 1965", titleFontSize=29, titleFontWeight="normal", titleColor="black",
    titleFont=FONT, titlePadding=14,
)
y_bot_axis = alt.Axis(
    values=DST_GRID, grid=True, gridColor="black", gridWidth=1.5, gridOpacity=1,
    ticks=False, domain=False, labelFlush=False,
    labelExpr="datum.value == 25 ? '+25' : (datum.value == -25 ? '\u221225' : "
              "(datum.value == -75 ? '\u221275' : (datum.value == -125 ? '-125' : '')))",
    labelFontSize=21, labelPadding=10, labelColor="black", labelFont=FONT,
    title="DST IN \u03b3'S", titleFontSize=30, titleFontWeight="normal", titleColor="black",
    titleFont=FONT, titleX=-87, titleY=65, titleAngle=270, titleAlign="center", titleBaseline="middle",
)

dst_df = pd.DataFrame({"day": [p[0] for p in DST_PTS], "dst": [p[1] for p in DST_PTS]})
X_B = alt.X("day:Q", scale=alt.Scale(domain=[24, 184], nice=False, zero=False), axis=x_bot_axis)
Y_B = alt.Y("dst:Q", scale=alt.Scale(domain=[-150, 25], nice=False, zero=False), axis=y_bot_axis)
dst_line = alt.Chart(dst_df).mark_line(color="black", strokeWidth=1.7).encode(x=X_B, y=Y_B)
dst_dots = alt.Chart(dst_df).mark_circle(color="black", size=7, opacity=1).encode(x=X_B, y=Y_B)
bottom = alt.layer(dst_line, dst_dots).properties(width=1014, height=131)

chart = alt.vconcat(top, bottom, spacing=44, bounds="flush").properties(
    padding={"left": 15, "top": 9, "right": 5, "bottom": 5},
    background="white",
).configure_view(stroke="black", strokeWidth=1.6).configure(font=FONT)

chart.save("out.html", embed_options={"renderer": "svg", "actions": False})
